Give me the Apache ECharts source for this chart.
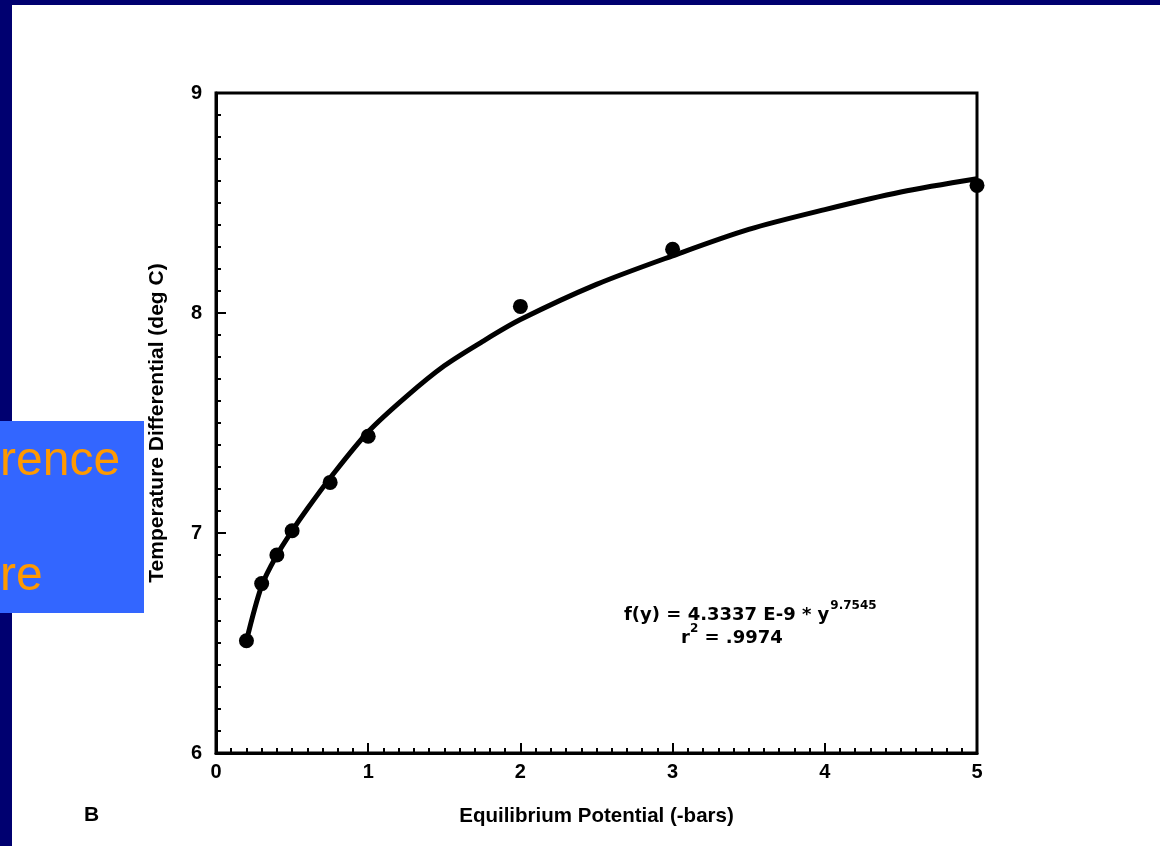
<!DOCTYPE html>
<html>
<head>
<meta charset="utf-8">
<script src="https://cdn.jsdelivr.net/npm/echarts@6/dist/echarts.min.js"></script>
<style>
html,body{margin:0;padding:0;background:#fff;}
#chart{width:1160px;height:846px;}
</style>
</head>
<body>
<div id="chart"></div>
<script>
// Measured points
const pointsX = [0.2, 0.3, 0.4, 0.5, 0.75, 1.0, 2.0, 3.0, 5.0];
const pointsY = [6.51, 6.77, 6.90, 7.01, 7.23, 7.44, 8.03, 8.29, 8.58];
// Fitted curve
const fitX = [0.2, 0.3, 0.4, 0.5, 0.6, 0.75, 1.0, 1.25, 1.5, 1.75, 2.0, 2.5, 3.0, 3.5, 4.0, 4.5, 5.0];
const fitY = [6.51, 6.76, 6.90, 7.01, 7.11, 7.25, 7.46, 7.62, 7.76, 7.87, 7.97, 8.13, 8.26, 8.38, 8.47, 8.55, 8.61];
const xTicks = [0, 1, 2, 3, 4, 5];
const yTicks = [6, 7, 8, 9];
const xName = 'Equilibrium Potential (-bars)';
const yName = 'Temperature Differential (deg C)';
const eqLine1 = 'f(y) = 4.3337 E-9 * y';
const eqExp = '9.7545';
const eqLine2 = '= .9974';

const FONT = '"Liberation Sans", Arial, sans-serif';
const EQFONT = '"DejaVu Sans", sans-serif';
const chart = echarts.init(document.getElementById('chart'));

const axisCommon = {
  axisLine: {show: true, lineStyle: {color: '#000', width: 3}},
  axisTick: {show: true, inside: true, length: 10, lineStyle: {color: '#000', width: 2}},
  minorTick: {show: true, splitNumber: 10, length: 5, lineStyle: {color: '#000', width: 2}},
  splitLine: {show: false},
};

chart.setOption({
  backgroundColor: '#fff',
  animation: false,
  grid: {left: 216, right: 183, top: 93, bottom: 93, show: true, borderColor: '#000', borderWidth: 3, backgroundColor: 'transparent'},
  xAxis: Object.assign({}, axisCommon, {
    type: 'value', min: xTicks[0], max: xTicks[xTicks.length - 1], interval: 1,
    name: xName, nameLocation: 'middle', nameGap: 53,
    nameTextStyle: {color: '#000', fontFamily: FONT, fontWeight: 'bold', fontSize: 20.5},
    axisLabel: {color: '#000', fontFamily: FONT, fontWeight: 'bold', fontSize: 20, margin: 9}
  }),
  yAxis: Object.assign({}, axisCommon, {
    type: 'value', min: yTicks[0], max: yTicks[yTicks.length - 1], interval: 1,
    name: yName, nameLocation: 'middle', nameGap: 48, nameRotate: 90,
    nameTextStyle: {color: '#000', fontFamily: FONT, fontWeight: 'bold', fontSize: 21},
    axisLabel: {color: '#000', fontFamily: FONT, fontWeight: 'bold', fontSize: 20, margin: 14}
  }),
  series: [
    {
      type: 'line', data: fitX.map((x, i) => [x, fitY[i]]), smooth: 0.3,
      showSymbol: false, lineStyle: {color: '#000', width: 5}, z: 2
    },
    {
      type: 'scatter', data: pointsX.map((x, i) => [x, pointsY[i]]),
      symbol: 'circle', symbolSize: 15, itemStyle: {color: '#000', opacity: 1}, z: 3
    }
  ],
  graphic: [
    {type: 'rect', shape: {x: 0, y: 0, width: 1160, height: 5}, style: {fill: '#000070'}, z: 10},
    {type: 'rect', shape: {x: 0, y: 0, width: 12, height: 846}, style: {fill: '#000070'}, z: 10},
    {type: 'rect', shape: {x: 0, y: 421, width: 144, height: 192}, style: {fill: '#3366FF'}, z: 11},
    {type: 'text', left: 0, top: 438, z: 12, style: {text: 'rence', fill: '#FF9900', font: '48px "Liberation Sans", Arial, sans-serif'}},
    {type: 'text', left: 0, top: 553, z: 12, style: {text: 're', fill: '#FF9900', font: '48px "Liberation Sans", Arial, sans-serif'}},
    {type: 'text', left: 84, top: 805, z: 12, style: {text: 'B', fill: '#000', font: 'bold 21px "Liberation Sans", Arial, sans-serif'}},
    {type: 'text', left: 624, top: 600, z: 12, style: {
      text: '{a|' + eqLine1 + '}{s|' + eqExp + '}',
      rich: {
        a: {fill: '#000', fontFamily: EQFONT, fontWeight: 'bold', fontSize: 18, verticalAlign: 'bottom', lineHeight: 24},
        s: {fill: '#000', fontFamily: EQFONT, fontWeight: 'bold', fontSize: 12, verticalAlign: 'top', lineHeight: 24, padding: [0, 0, 10, 1]}
      }
    }},
    {type: 'text', left: 681, top: 623, z: 12, style: {
      text: '{a|r}{s|2}{a| ' + eqLine2 + '}',
      rich: {
        a: {fill: '#000', fontFamily: EQFONT, fontWeight: 'bold', fontSize: 18, verticalAlign: 'bottom', lineHeight: 24},
        s: {fill: '#000', fontFamily: EQFONT, fontWeight: 'bold', fontSize: 12, verticalAlign: 'top', lineHeight: 24, padding: [0, 0, 10, 0]}
      }
    }}
  ]
});
</script>
</body>
</html>
